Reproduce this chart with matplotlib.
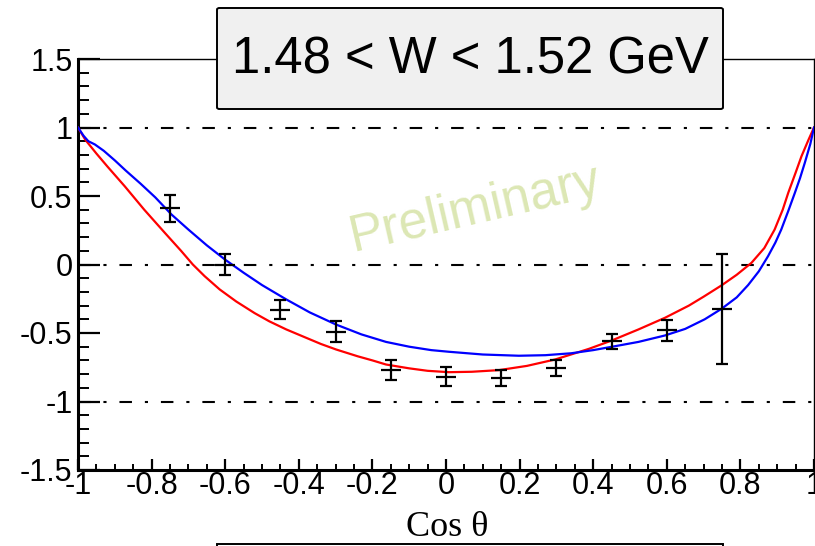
import numpy as np
import matplotlib
matplotlib.use("Agg")
import matplotlib.pyplot as plt
from matplotlib.patches import FancyBboxPatch, Rectangle
from matplotlib.ticker import MultipleLocator

# ---- data ----
x_data = [-0.75, -0.6, -0.45, -0.3, -0.15, 0.0, 0.15, 0.3, 0.45, 0.6, 0.75]
y_data = [0.41, 0.0, -0.33, -0.49, -0.77, -0.82, -0.83, -0.755, -0.56, -0.48, -0.325]
y_err = [0.10, 0.08, 0.07, 0.075, 0.07, 0.07, 0.06, 0.06, 0.055, 0.077, 0.40]

blue_x = [-1.0, -0.985, -0.972, -0.954, -0.93, -0.90, -0.87, -0.83, -0.79, -0.746,
          -0.70, -0.65, -0.60, -0.55, -0.50, -0.434, -0.37, -0.299, -0.23, -0.163,
          -0.10, -0.04, 0.008, 0.10, 0.198, 0.27, 0.34, 0.40, 0.46, 0.523,
          0.595, 0.65, 0.703, 0.749, 0.79, 0.821, 0.85, 0.875, 0.895, 0.911,
          0.93, 0.948, 0.962, 0.975, 0.99, 1.0]
blue_y = [1.0, 0.94, 0.90, 0.876, 0.83, 0.76, 0.685, 0.59, 0.49, 0.365,
          0.255, 0.14, 0.035, -0.06, -0.15, -0.255, -0.35, -0.438, -0.51, -0.565,
          -0.60, -0.625, -0.637, -0.657, -0.666, -0.662, -0.648, -0.625, -0.596, -0.565,
          -0.518, -0.47, -0.40, -0.323, -0.24, -0.15, -0.05, 0.06, 0.16, 0.255,
          0.39, 0.523, 0.63, 0.742, 0.88, 1.0]

red_x = [-1.0, -0.98, -0.95, -0.92, -0.873, -0.82, -0.764, -0.72, -0.688, -0.656,
         -0.615, -0.57, -0.52, -0.48, -0.434, -0.38, -0.34, -0.299, -0.24, -0.20,
         -0.163, -0.10, -0.05, 0.008, 0.07, 0.144, 0.22, 0.297, 0.388, 0.45,
         0.523, 0.595, 0.66, 0.70, 0.749, 0.79, 0.83, 0.865, 0.893, 0.915,
         0.93, 0.95, 0.966, 0.985, 1.0]
red_y = [1.0, 0.91, 0.81, 0.715, 0.571, 0.40, 0.231, 0.10, 0.0, -0.085,
         -0.182, -0.27, -0.355, -0.415, -0.474, -0.535, -0.58, -0.62, -0.67, -0.70,
         -0.73, -0.758, -0.776, -0.786, -0.783, -0.771, -0.74, -0.693, -0.616, -0.555,
         -0.474, -0.389, -0.30, -0.235, -0.152, -0.075, 0.012, 0.12, 0.255, 0.40,
         0.523, 0.67, 0.79, 0.91, 1.0]

x_ticks = [-1, -0.8, -0.6, -0.4, -0.2, 0, 0.2, 0.4, 0.6, 0.8, 1]
x_ticklabels = ["-1", "-0.8", "-0.6", "-0.4", "-0.2", "0", "0.2", "0.4", "0.6", "0.8", "1"]
y_ticks = [-1.5, -1, -0.5, 0, 0.5, 1, 1.5]
y_ticklabels = ["-1.5", "-1", "-0.5", "0", "0.5", "1", "1.5"]
ref_lines = [-1, 0, 1]

title_text = "1.48 < W < 1.52 GeV"
xlabel_text = "Cos \u03b8"
watermark = "Preliminary"

# ---- figure ----
plt.rcParams['font.family'] = ['Liberation Sans', 'DejaVu Sans']
W, H = 815, 546
fig = plt.figure(figsize=(W / 100, H / 100), dpi=100)
ax = fig.add_axes([78 / W, (H - 470) / H, (814 - 78) / W, (470 - 59) / H])
ax.set_xlim(-1, 1)
ax.set_ylim(-1.5, 1.5)

# reference dash-dot lines
for yv in ref_lines:
    ax.plot([-1, 1], [yv, yv], color='black', lw=1.5,
            linestyle=(0, (6.0, 6.2, 1.5, 6.2)), zorder=2, dash_capstyle='butt')

# curves
ax.plot(red_x, red_y, color='#ff0000', lw=1.6, zorder=3, solid_joinstyle='round')
ax.plot(blue_x, blue_y, color='#0000ff', lw=1.6, zorder=3, solid_joinstyle='round')

# data points with error bars
ax.errorbar(x_data, y_data, yerr=y_err, fmt='none', ecolor='black', elinewidth=1.6,
            capsize=4, capthick=1.6, zorder=4)
ax.plot(x_data, y_data, linestyle='none', marker='_', markersize=15,
        markeredgewidth=1.6, color='black', zorder=4)

# watermark
ax.text(0.08, 0.40, watermark, color='#dce7b4', fontsize=37, rotation=13,
        ha='center', va='center', zorder=1)

# spines
for s in ['left', 'bottom']:
    ax.spines[s].set_linewidth(2.2)
for s in ['top', 'right']:
    ax.spines[s].set_linewidth(1.0)

ax.set_xticks(x_ticks)
ax.set_xticklabels(x_ticklabels)
ax.set_yticks(y_ticks)
ax.set_yticklabels(y_ticklabels)
ax.xaxis.set_minor_locator(MultipleLocator(0.05))
ax.yaxis.set_minor_locator(MultipleLocator(0.1))
ax.tick_params(axis='x', which='major', direction='in', length=8, width=1.6,
               labelsize=22, pad=1, top=False)
ax.tick_params(axis='x', which='minor', direction='in', length=4, width=1.4, top=False)
ax.tick_params(axis='y', which='major', direction='in', length=16, width=1.6,
               labelsize=22, pad=4, right=False)
ax.tick_params(axis='y', which='minor', direction='in', length=8, width=1.4, right=False)

fig.text(447 / W, (H - 527) / H, xlabel_text, fontsize=26, ha='center', va='center',
         family=['Liberation Serif', 'DejaVu Serif'])

# title box
box = FancyBboxPatch((217 / W, (H - 109) / H), (723 - 217) / W, (109 - 8) / H,
                     boxstyle='round,pad=0,rounding_size=0.003', transform=fig.transFigure,
                     facecolor='#f0f0f0', edgecolor='black', lw=1.4, zorder=10)
fig.patches.append(box)
fig.text((217 + 723) / 2 / W, (H - 60) / H, title_text, fontsize=36.5, ha='center',
         va='center', zorder=11)

# bottom box (cut off)
bbox2 = Rectangle((217 / W, -0.05), (723 - 217) / W, 0.05 + (H - 544) / H,
                  transform=fig.transFigure, facecolor='white', edgecolor='black',
                  lw=1.4, zorder=10)
fig.patches.append(bbox2)

fig.savefig('out.png', dpi=100)
